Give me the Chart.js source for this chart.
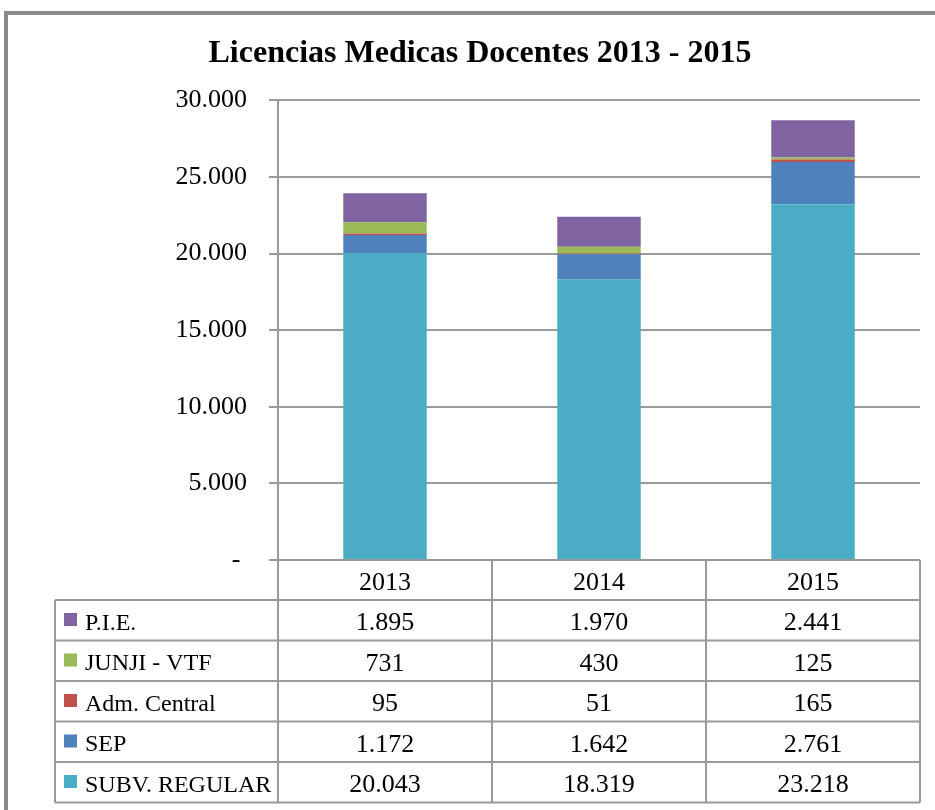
<!DOCTYPE html>
<html>
<head>
<meta charset="utf-8">
<script src="https://cdn.jsdelivr.net/npm/chart.js@4"></script>
<style>
  html,body{margin:0;padding:0;background:#fff;overflow:hidden}
  #wrap{position:relative;width:935px;height:810px}
  #frame{position:absolute;left:4px;top:11px;width:1000px;height:900px;border-left:4px solid #8a8a8a;border-top:4px solid #8a8a8a}
  canvas{position:absolute;left:0;top:0}
</style>
</head>
<body>
<div id="wrap">
  <div id="frame"></div>
  <canvas id="c" width="935" height="810"></canvas>
</div>
<script>
/* datos de la tabla (licencias por año) */
const YEARS   = ['2013','2014','2015'];
const PIE     = [1895, 1970, 2441];
const JUNJI   = [731, 430, 125];
const ADM     = [95, 51, 165];
const SEP     = [1172, 1642, 2761];
const SUBV    = [20043, 18319, 23218];

const SERIES = [   // orden de la tabla (arriba -> abajo)
  {label:'P.I.E.',        data:PIE,   color:'#8064A2'},
  {label:'JUNJI - VTF',   data:JUNJI, color:'#9BBB59'},
  {label:'Adm. Central',  data:ADM,   color:'#C0504D'},
  {label:'SEP',           data:SEP,   color:'#4F81BD'},
  {label:'SUBV. REGULAR', data:SUBV,  color:'#4BACC6'}
];

const FONT = '"Liberation Serif", "DejaVu Serif", serif';
const GRID = '#9a9a9a';
const fmt = n => String(n).replace(/\B(?=(\d{3})+(?!\d))/g, '.');

/* ── tabla de datos bajo el gráfico ───────────────────────── */
const dataTable = {
  id:'dataTable',
  afterDraw(chart){
    const {ctx, chartArea:a, scales:{x}} = chart;
    const colW = (a.right - a.left) / YEARS.length;
    const top = a.bottom, headH = 40, rowH = 40.5;
    const left = 55;
    ctx.save();
    ctx.strokeStyle = GRID; ctx.lineWidth = 2;
    // líneas horizontales
    ctx.beginPath();
    for(let r=0;r<=SERIES.length;r++){
      const y = top + headH + r*rowH;
      ctx.moveTo(left, y); ctx.lineTo(a.right, y);
    }
    // verticales
    for(let c=0;c<=YEARS.length;c++){
      const xx = a.left + c*colW;
      ctx.moveTo(xx, top); ctx.lineTo(xx, top + headH + SERIES.length*rowH);
    }
    ctx.moveTo(left, top+headH); ctx.lineTo(left, top + headH + SERIES.length*rowH);
    ctx.stroke();

    ctx.fillStyle = '#000';
    ctx.textBaseline = 'middle';
    ctx.textAlign = 'center';
    ctx.font = '26px ' + FONT;
    YEARS.forEach((yr,i)=> ctx.fillText(yr, x.getPixelForValue(i), top + headH/2 + 3));
    SERIES.forEach((s,r)=>{
      const yMid = top + headH + r*rowH + rowH/2 + 3;
      ctx.font = '26px ' + FONT;
      ctx.textAlign = 'center';
      s.data.forEach((v,i)=> ctx.fillText(fmt(v), x.getPixelForValue(i), yMid));
      ctx.fillStyle = s.color;
      ctx.fillRect(64, top + headH + r*rowH + 13, 13, 13);
      ctx.fillStyle = '#000';
      ctx.textAlign = 'left';
      ctx.font = '24px ' + FONT;
      ctx.fillText(s.label, 85, yMid);
    });
    ctx.restore();
  }
};

/* apilado: de abajo hacia arriba */
const stackOrder = SERIES.slice().reverse();

new Chart(document.getElementById('c'), {
  type:'bar',
  data:{
    labels:YEARS,
    datasets:stackOrder.map(s=>({
      label:s.label, data:s.data, backgroundColor:s.color,
      borderWidth:0, categoryPercentage:1, barPercentage:0.39
    }))
  },
  options:{
    responsive:false, animation:false,
    layout:{padding:{left:40, right:15, top:27, bottom:250}},
    plugins:{
      legend:{display:false},
      tooltip:{enabled:false},
      title:{display:true, text:'Licencias Medicas Docentes 2013 - 2015',
        color:'#000', font:{family:FONT, size:32, weight:'bold'}, padding:{top:8, bottom:27}}
    },
    scales:{
      x:{display:false, stacked:true},
      y:{stacked:true, min:0, max:30000,
        afterFit:s=>{ s.width = 238; },
        ticks:{stepSize:5000, color:'#000', padding:22, font:{family:FONT, size:26},
          callback:v=> v===0 ? '- ' : fmt(v)},
        grid:{color:GRID, lineWidth:2, tickLength:9},
        border:{color:GRID, width:2}}
    }
  },
  plugins:[dataTable]
});
</script>
</body>
</html>
